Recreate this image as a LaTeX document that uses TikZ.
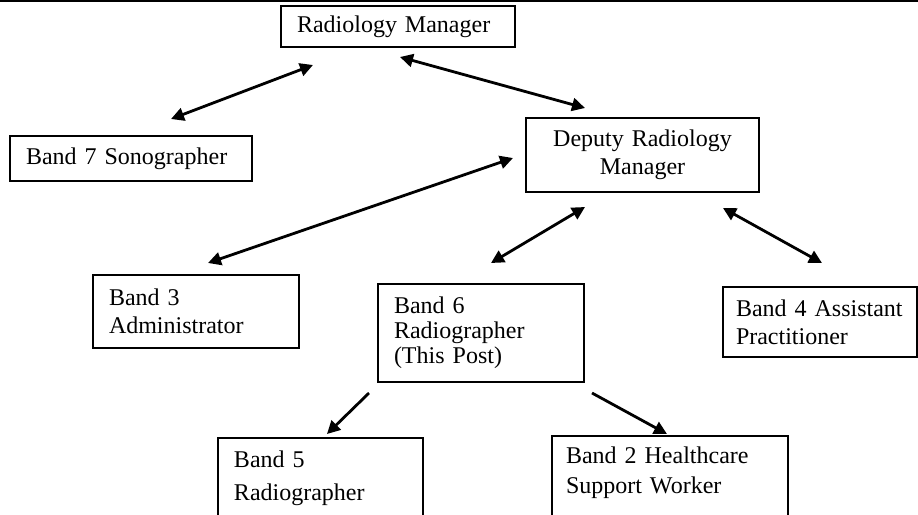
\documentclass[tikz,border=0pt]{standalone}
\usepackage{fontspec}
\setmainfont{Liberation Serif}
\usetikzlibrary{arrows.meta}
\tikzset{
  post/.style={draw,line width=0.9pt,anchor=north west,outer sep=0pt,inner xsep=8pt,inner ysep=0pt,
    align=left,font=\fontsize{12}{14}\selectfont},
  twoway/.style={line width=1.4pt,{Triangle[length=6.5pt,width=6.5pt]}-{Triangle[length=6.5pt,width=6.5pt]}},
  oneway/.style={line width=1.4pt,-{Triangle[length=6.5pt,width=6.5pt]}}
}
\begin{document}
\begin{tikzpicture}[x=0.5pt,y=-0.5pt]
\clip (0,0) rectangle (918,515);
\draw[line width=1pt] (0,1) -- (918,1);
\node[post,text width=101pt,minimum height=20.5pt] (rm) at (281,6) {Radiology Manager};
\node[post,text width=105pt,minimum height=22.5pt] (b7) at (10,136) {Band 7 Sonographer};
\node[post,align=center,text width=100.5pt,minimum height=37pt] (drm) at (526,118) {Deputy Radiology\\Manager};
\node[post,text width=87pt,minimum height=36.5pt] (b3) at (93,275) {Band 3\\Administrator};
\node[post,text width=87pt,minimum height=49pt,font=\fontsize{12}{12.5}\selectfont] (b6) at (378,284) {Band 6\\Radiographer\\(This Post)};
\node[post,inner xsep=6.5pt,text width=84pt,minimum height=35pt] (b4) at (723,287) {Band 4 Assistant\\Practitioner};
\node[post,text width=86.5pt,minimum height=40pt,font=\fontsize{12}{16.5}\selectfont] (b5) at (218,438) {Band 5\\Radiographer};
\node[post,inner xsep=7pt,inner ysep=4.5pt,text width=104pt,text height=9pt,text depth=30pt,font=\fontsize{12}{15}\selectfont] (b2) at (552,436) {Band 2 Healthcare\\Support Worker};
\coordinate (rm-b7) at (313,65);
\coordinate (b7-rm) at (171,119);
\coordinate (rm-drm) at (400,57);
\coordinate (drm-rm) at (585,108);
\coordinate (drm-b3) at (513,158);
\coordinate (b3-drm) at (208,263);
\coordinate (drm-b6) at (585,207);
\coordinate (b6-drm) at (491,263);
\coordinate (drm-b4) at (723,208);
\coordinate (b4-drm) at (822,263);
\coordinate (b6-b5) at (369,393);
\coordinate (b5-b6) at (327,434);
\coordinate (b6-b2) at (592,393);
\coordinate (b2-b6) at (667,434);
\draw[twoway] (rm-b7) -- (b7-rm);
\draw[twoway] (rm-drm) -- (drm-rm);
\draw[twoway] (drm-b3) -- (b3-drm);
\draw[twoway] (drm-b6) -- (b6-drm);
\draw[twoway] (drm-b4) -- (b4-drm);
\draw[oneway] (b6-b5) -- (b5-b6);
\draw[oneway] (b6-b2) -- (b2-b6);
\end{tikzpicture}
\end{document}
